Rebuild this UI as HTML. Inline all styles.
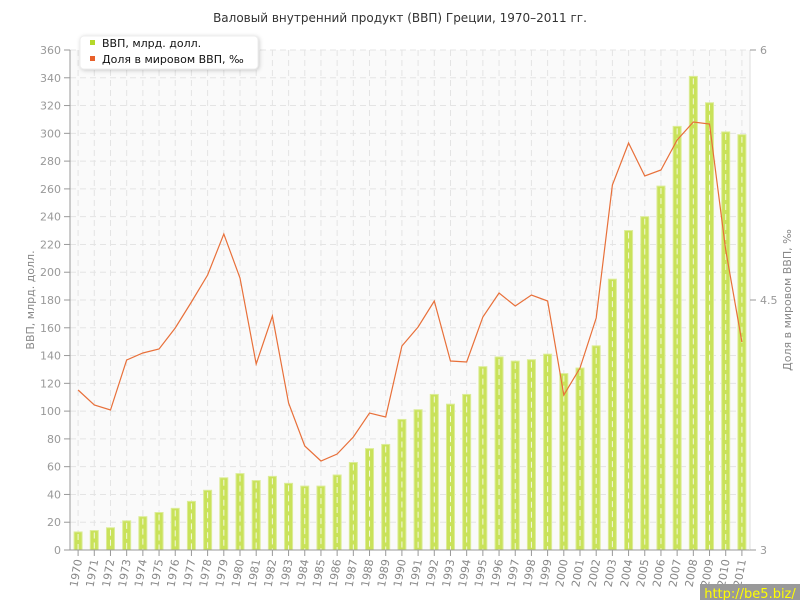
<!DOCTYPE html>
<html><head><meta charset="utf-8"><style>
body{margin:0;background:#fff;}
svg text{font-family:"DejaVu Sans","Liberation Sans",sans-serif;}
</style></head><body>
<svg id="s" width="800" height="600" xmlns="http://www.w3.org/2000/svg">
<rect x="70" y="50" width="680" height="500" fill="#fafafa"/>
<g id="g"></g>
<text x="400" y="22" text-anchor="middle" font-size="12" fill="#333">Валовый внутренний продукт (ВВП) Греции, 1970–2011 гг.</text>
<rect x="700" y="584" width="100" height="16" fill="#999"/>
<text x="750" y="598" text-anchor="middle" font-size="13" fill="#ff0">http://be5.biz/</text>
</svg>
<script>
const v=[13,14,16,21,24,27,30,35,43,52,55,50,53,48,46,46,54,63,73,76,94,101,112,105,112,132,139,136,137,141,127,131,147,195,230,240,262,305,341,322,301,299];
const ly=[390,405,410,360,353,349,328,302,275,234,278,364,316,403,446,461,454,437,413,417,346,327,301,361,362,317,293,306,295,301,395,368,318,185,143,176,170,140,122,124,250,342];
let h='';const w=680/42;const cx=i=>70+w/2+w*i;const Y=t=>550-t*500/360;
for(let t=0;t<=360;t+=20){const y=Y(t);if(t>0)h+=`<line x1="70" x2="750" y1="${y}" y2="${y}" stroke="#e4e4e4" stroke-dasharray="6,4"/>`;
h+=`<line x1="64" x2="70" y1="${y}" y2="${y}" stroke="#999"/><text x="61" y="${y+4}" text-anchor="end" font-size="11" fill="#999">${t}</text>`;}
for(let i=0;i<42;i++){const x=cx(i);h+=`<line x1="${x}" x2="${x}" y1="50" y2="550" stroke="#e4e4e4" stroke-dasharray="6,4"/>`;}
for(let i=0;i<42;i++){const x=cx(i),y=Y(v[i]);h+=`<rect x="${x-4}" y="${y}" width="8" height="${550-y}" fill="#c9e25a" stroke="#dcec98" stroke-width="1"/><line x1="${x}" x2="${x}" y1="${y+2}" y2="550" stroke="#f4f8e0" stroke-dasharray="6,4"/>`;
h+=`<line x1="${x}" x2="${x}" y1="550" y2="556" stroke="#999"/><text transform="translate(${x+4},560) rotate(-80)" text-anchor="end" font-size="11" fill="#888">${1970+i}</text>`;}
h+=`<polyline fill="none" stroke="#e8703a" stroke-width="1.2" points="${ly.map((y,i)=>cx(i)+','+y).join(' ')}"/>`;
h+=`<line x1="70" x2="70" y1="50" y2="550" stroke="#999"/><line x1="70" x2="750" y1="550" y2="550" stroke="#999"/><line x1="750" x2="750" y1="50" y2="550" stroke="#ddd"/>`;
[[50,'6'],[300,'4.5'],[550,'3']].forEach(([y,t])=>{h+=`<line x1="750" x2="756" y1="${y}" y2="${y}" stroke="#999"/><text x="760" y="${y+4}" font-size="11" fill="#999">${t}</text>`;});
h+=`<text transform="translate(34,300) rotate(-90)" text-anchor="middle" font-size="11" fill="#888">ВВП, млрд. долл.</text>`;
h+=`<text transform="translate(791,300) rotate(-90)" text-anchor="middle" font-size="11" fill="#888">Доля в мировом ВВП, ‰</text>`;
h+=`<rect x="80" y="36" width="178" height="33" rx="4" fill="#fff" stroke="#eee" style="filter:drop-shadow(1px 1px 2px rgba(0,0,0,0.2))"/>`;
h+=`<rect x="90" y="40" width="5" height="5" fill="#b5d82a"/><text x="102" y="47" font-size="11" fill="#111">ВВП, млрд. долл.</text>`;
h+=`<rect x="90" y="56" width="5" height="5" fill="#e8602a"/><text x="102" y="63" font-size="11" fill="#111">Доля в мировом ВВП, ‰</text>`;
document.getElementById('g').innerHTML=h;
</script>
</body></html>
